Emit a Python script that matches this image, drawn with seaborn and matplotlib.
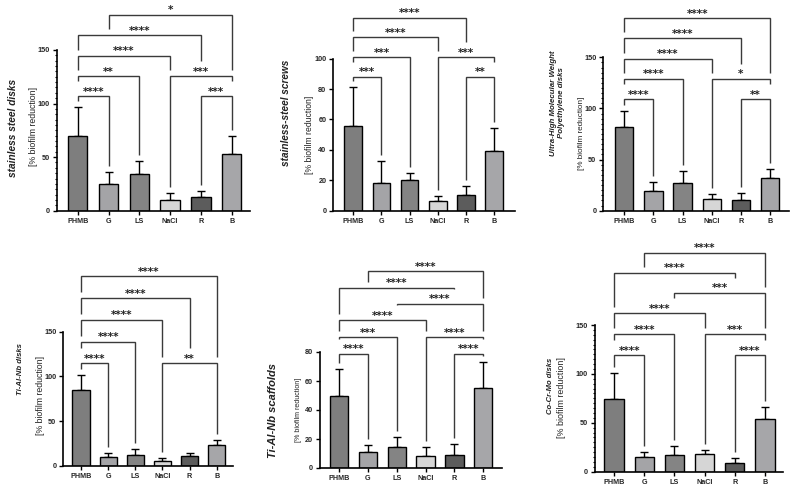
import matplotlib
matplotlib.use("Agg")
import matplotlib.pyplot as plt
import numpy as np
import pandas as pd
import seaborn as sns
from matplotlib.ticker import MultipleLocator

# ---------------- data ----------------
groups = ["PHMB", "G", "LS", "NaCl", "R", "B"]

ss_disks_mean = [70.0, 24.6, 34.2, 10.0, 12.8, 53.2]
ss_disks_sd = [26.5, 11.4, 12.5, 6.2, 5.9, 16.8]

ss_screws_mean = [55.9, 18.4, 20.0, 6.1, 10.3, 39.6]
ss_screws_sd = [25.2, 14.0, 4.5, 3.7, 6.1, 14.9]

uhmwpe_mean = [81.8, 19.2, 27.4, 11.4, 10.4, 32.3]
uhmwpe_sd = [15.7, 8.8, 11.1, 4.9, 6.6, 8.7]

tialnb_disks_mean = [84.7, 10.4, 12.7, 5.2, 10.8, 23.5]
tialnb_disks_sd = [17.2, 3.8, 6.0, 3.4, 3.4, 5.2]

tialnb_scaf_mean = [49.4, 10.8, 14.7, 8.3, 8.7, 55.2]
tialnb_scaf_sd = [18.6, 4.8, 6.9, 6.4, 7.6, 17.7]

cocrmo_mean = [74.2, 15.0, 17.4, 18.1, 9.2, 54.0]
cocrmo_sd = [26.3, 5.5, 8.6, 4.5, 4.8, 12.6]

# significance brackets: (group i, group j, height, label)
ss_disks_sig = [(0, 1, 107, "****"), (0, 2, 125.7, "**"), (0, 3, 144.4, "****"),
                (0, 4, 164, "****"), (1, 5, 182.7, "*"), (3, 5, 125.7, "***"),
                (4, 5, 107, "***")]
ss_screws_sig = [(0, 1, 88, "***"), (0, 2, 101, "***"), (0, 3, 114, "****"),
                 (0, 4, 127, "****"), (3, 5, 101, "***"), (4, 5, 88, "**")]
uhmwpe_sig = [(0, 1, 109, "****"), (0, 2, 129, "****"), (0, 3, 148.4, "****"),
              (0, 4, 168.6, "****"), (0, 5, 188, "****"), (3, 5, 129, "*"),
              (4, 5, 109, "**")]
tialnb_disks_sig = [(0, 1, 115, "****"), (0, 2, 139, "****"), (0, 3, 163.3, "****"),
                    (0, 4, 187.6, "****"), (0, 5, 211.8, "****"), (3, 5, 115, "**")]
tialnb_scaf_sig = [(0, 1, 78.9, "****"), (0, 2, 90.2, "***"), (0, 3, 101.8, "****"),
                   (2, 5, 113.2, "****"), (0, 4, 124.3, "****"), (1, 5, 135.7, "****"),
                   (3, 5, 90.2, "****"), (4, 5, 78.9, "****")]
cocrmo_sig = [(0, 1, 119.3, "****"), (0, 2, 140.5, "****"), (0, 3, 161.9, "****"),
              (2, 5, 183, "***"), (0, 4, 203.5, "****"), (1, 5, 224, "****"),
              (3, 5, 140.5, "***"), (4, 5, 119.3, "****")]

titles = ["stainless steel disks", "stainless-steel screws",
          "Ultra-High Molecular Weight\nPolyethylene disks",
          "Ti-Al-Nb disks", "Ti-Al-Nb scaffolds", "Co-Cr-Mo disks"]
ylabel = "[% biofilm reduction]"

colors = {"PHMB": "#7e7e7e", "G": "#a4a4a7", "LS": "#848484",
          "NaCl": "#d6d6d6", "R": "#5c5c5c", "B": "#a5a5a9"}

# ---------------- layout (pixels in a 794x488 canvas) ----------------
W, H = 794, 488
panels = [
    dict(mean=ss_disks_mean, sd=ss_disks_sd, sig=ss_disks_sig, box=(57, 250, 50, 210.7),
         c0=77.7, c5=231.7, ymax=150, major=50, minor=5,
         tpos=(13, 128), tfs=7.3, lpos=(33, 127), lfs=6.3),
    dict(mean=ss_screws_mean, sd=ss_screws_sd, sig=ss_screws_sig, box=(333.3, 515, 58.7, 210.7),
         c0=353.3, c5=494, ymax=100, major=20, minor=None,
         tpos=(285.7, 113), tfs=7.2, lpos=(309, 135), lfs=6.2),
    dict(mean=uhmwpe_mean, sd=uhmwpe_sd, sig=uhmwpe_sig, box=(603.3, 789, 57.3, 210.7),
         c0=624.3, c5=770, ymax=150, major=50, minor=5,
         tpos=(557.5, 103), tfs=5.7, lpos=(581.7, 133), lfs=5.9),
    dict(mean=tialnb_disks_mean, sd=tialnb_disks_sd, sig=tialnb_disks_sig, box=(63.3, 233.3, 331.7, 466),
         c0=81, c5=216.7, ymax=150, major=50, minor=None,
         tpos=(20, 369), tfs=5.6, lpos=(40.5, 395.7), lfs=6.3),
    dict(mean=tialnb_scaf_mean, sd=tialnb_scaf_sd, sig=tialnb_scaf_sig, box=(320, 501.7, 352, 468),
         c0=339, c5=483.3, ymax=80, major=20, minor=None,
         tpos=(273.3, 410), tfs=8.0, lpos=(298.3, 410), lfs=5.1),
    dict(mean=cocrmo_mean, sd=cocrmo_sd, sig=cocrmo_sig, box=(595, 783.3, 325, 471.7),
         c0=614, c5=765, ymax=150, major=50, minor=5,
         tpos=(550.5, 385.8), tfs=5.5, lpos=(561.7, 397), lfs=6.4),
]

sns.set_theme(style="ticks")
plt.rcParams["font.family"] = ["Liberation Sans", "DejaVu Sans"]
plt.rcParams["axes.linewidth"] = 1.2

fig = plt.figure(figsize=(W / 100, H / 100), dpi=100)
fig.patch.set_facecolor("white")

LINE = "#3a3a3a"

for p, title in zip(panels, titles):
    l, r, t, b = p["box"]
    ax = fig.add_axes([l / W, 1 - b / H, (r - l) / W, (b - t) / H])
    df = pd.DataFrame({"group": groups, "value": p["mean"]})
    sns.barplot(data=df, x="group", y="value", hue="group", order=groups,
                palette=colors, legend=False, width=0.63, edgecolor="black",
                linewidth=1.0, errorbar=None, ax=ax, zorder=2)
    xs = np.arange(len(groups))
    ax.errorbar(xs, p["mean"], yerr=[np.zeros(len(groups)), p["sd"]], fmt="none",
                ecolor="black", elinewidth=1.0, capsize=3.2, capthick=1.0, zorder=1)
    unit = (p["c5"] - p["c0"]) / 5
    ax.set_xlim((l - p["c0"]) / unit, (r - p["c0"]) / unit)
    ax.set_ylim(0, p["ymax"])
    ax.yaxis.set_major_locator(MultipleLocator(p["major"]))
    if p["minor"]:
        ax.yaxis.set_minor_locator(MultipleLocator(p["minor"]))
        ax.tick_params(axis="y", which="minor", length=1.6, width=0.8, color="black")
    ax.set_xlabel("")
    ax.set_ylabel("")
    sns.despine(ax=ax)
    ax.spines["left"].set_color("black")
    ax.spines["bottom"].set_color("black")
    ax.tick_params(axis="both", which="major", length=3, width=1.0, color="black",
                   pad=2, labelsize=5.2)
    for lab in ax.get_xticklabels() + ax.get_yticklabels():
        lab.set_fontweight("bold")
    ax.set_facecolor("none")

    # bracket geometry helpers
    span = p["ymax"]
    def d(px, ax=ax, span=span):
        return px * span / ax.bbox.height

    sig = p["sig"]
    tops = [m + s for m, s in zip(p["mean"], p["sd"])]

    def leg_bottom(k, x, ytop):
        cands = [tops[x]]
        for m, (i, j, y, lab) in enumerate(sig):
            if m == k or y >= ytop:
                continue
            if i <= x <= j:
                top = y
                if abs((i + j) / 2 - x) <= 0.6:
                    top = y + d(9)
                cands.append(top)
        return max(cands) + d(6)

    for k, (i, j, y, lab) in enumerate(sig):
        yl = leg_bottom(k, i, y)
        yr = leg_bottom(k, j, y)
        ax.plot([i, i, j, j], [yl, y, y, yr], color=LINE, lw=1.0,
                clip_on=False, solid_capstyle="butt", solid_joinstyle="miter", zorder=3)
        ax.text((i + j) / 2, y + d(1.5), lab, ha="center", va="baseline",
                fontsize=7.6, fontweight="bold", family="DejaVu Sans",
                color="#222222", clip_on=False)

    # outer (material) label and inner y label
    fig.text(p["tpos"][0] / W, 1 - p["tpos"][1] / H, title, rotation=90,
             ha="center", va="center", fontsize=p["tfs"], fontweight="bold",
             fontstyle="italic", multialignment="center", color="#222222")
    fig.text(p["lpos"][0] / W, 1 - p["lpos"][1] / H, ylabel, rotation=90,
             ha="center", va="center", fontsize=p["lfs"], color="#222222")

fig.savefig("out.png", dpi=100, facecolor="white")
